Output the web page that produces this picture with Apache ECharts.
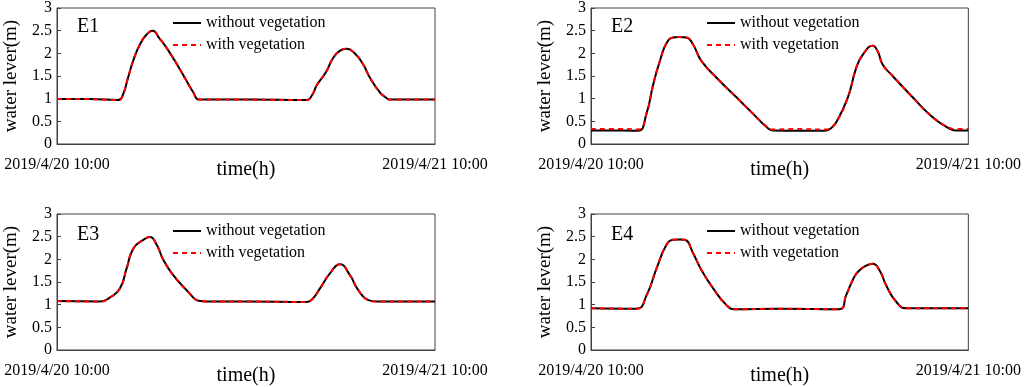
<!DOCTYPE html>
<html>
<head>
<meta charset="utf-8">
<script src="https://cdn.jsdelivr.net/npm/echarts@6/dist/echarts.min.js"></script>
<style>
  html, body { margin: 0; padding: 0; background: #fff; }
  #chart { width: 1024px; height: 387px; }
</style>
</head>
<body>
<div id="chart"></div>
<script>
// time in hours after 2019/4/20 10:00
const panelNames = ["E1", "E2", "E3", "E4"];
const xTickLabels = ["2019/4/20 10:00", "2019/4/21 10:00"];
const seriesNames = ["without vegetation", "with vegetation"];

const e1Time = [0, 2, 3.9, 4.2, 4.5, 4.85, 5.27, 5.7, 6.07, 6.5, 6.96, 7.8, 8.65, 9.0, 9.3, 12, 15.85, 16.2, 16.5, 17.1, 17.5, 17.97, 18.4, 18.9, 19.45, 19.87, 20.5, 20.9, 21.1, 21.5, 24];
const e1Without = [0.99, 0.99, 0.97, 1.1, 1.45, 1.85, 2.2, 2.42, 2.5, 2.33, 2.12, 1.65, 1.14, 0.98, 0.98, 0.98, 0.97, 1.08, 1.3, 1.6, 1.88, 2.06, 2.1, 2.0, 1.75, 1.46, 1.14, 1.02, 0.98, 0.98, 0.98];
const e1With = [0.99, 0.99, 0.97, 1.1, 1.45, 1.85, 2.2, 2.42, 2.5, 2.33, 2.12, 1.65, 1.14, 0.98, 0.98, 0.98, 0.97, 1.08, 1.3, 1.6, 1.88, 2.06, 2.1, 2.0, 1.75, 1.46, 1.14, 1.02, 0.98, 0.98, 0.98];

const e2Time = [0, 2, 3.0, 3.53, 3.96, 4.38, 4.8, 5.22, 5.6, 6.07, 6.5, 7.03, 8.19, 9.25, 10.3, 11.15, 11.57, 13, 14.86, 15.2, 15.6, 16.34, 16.87, 17.29, 17.92, 18.24, 18.56, 19.19, 20.46, 21.73, 22.79, 23.2, 24];
const e2Without = [0.3, 0.3, 0.29, 0.67, 1.32, 1.83, 2.22, 2.35, 2.36, 2.35, 2.19, 1.83, 1.39, 1.03, 0.67, 0.38, 0.3, 0.29, 0.29, 0.33, 0.48, 1.03, 1.68, 1.97, 2.17, 2.04, 1.75, 1.5, 1.03, 0.59, 0.34, 0.3, 0.3];
const e2With = [0.33, 0.33, 0.32, 0.67, 1.32, 1.83, 2.22, 2.35, 2.36, 2.35, 2.19, 1.83, 1.39, 1.03, 0.67, 0.39, 0.32, 0.33, 0.32, 0.35, 0.48, 1.03, 1.68, 1.97, 2.17, 2.04, 1.75, 1.5, 1.03, 0.59, 0.36, 0.33, 0.33];

const e3Time = [0, 2.73, 3.37, 4.0, 4.42, 4.85, 5.48, 5.9, 6.33, 6.75, 7.38, 8.23, 9.08, 9.5, 12, 15.85, 16.2, 16.7, 17.33, 17.97, 18.6, 19.13, 19.77, 20.3, 24];
const e3Without = [1.08, 1.07, 1.16, 1.36, 1.8, 2.24, 2.43, 2.49, 2.32, 1.99, 1.65, 1.32, 1.08, 1.07, 1.07, 1.06, 1.12, 1.36, 1.69, 1.89, 1.65, 1.32, 1.1, 1.07, 1.07];
const e3With = [1.08, 1.07, 1.16, 1.36, 1.8, 2.24, 2.43, 2.49, 2.32, 1.99, 1.65, 1.32, 1.08, 1.07, 1.07, 1.06, 1.12, 1.36, 1.69, 1.89, 1.65, 1.32, 1.1, 1.07, 1.07];

const e4Time = [0, 2.9, 3.54, 4.17, 4.8, 5.22, 5.6, 5.97, 6.5, 7.03, 7.77, 8.62, 9.14, 12, 15.8, 16.23, 16.76, 17.08, 17.5, 17.92, 18.35, 18.77, 19.4, 20.04, 24];
const e4Without = [0.92, 0.91, 1.21, 1.8, 2.32, 2.43, 2.44, 2.43, 2.13, 1.76, 1.36, 0.99, 0.9, 0.91, 0.9, 1.21, 1.62, 1.76, 1.86, 1.9, 1.76, 1.43, 1.07, 0.92, 0.92];
const e4With = [0.92, 0.91, 1.21, 1.8, 2.32, 2.43, 2.44, 2.43, 2.13, 1.76, 1.36, 0.99, 0.9, 0.91, 0.9, 1.21, 1.62, 1.76, 1.86, 1.9, 1.76, 1.43, 1.07, 0.92, 0.92];

const panels = [
  { time: e1Time, without: e1Without, withVeg: e1With },
  { time: e2Time, without: e2Without, withVeg: e2With },
  { time: e3Time, without: e3Without, withVeg: e3With },
  { time: e4Time, without: e4Without, withVeg: e4With },
];

const FONT = "'Liberation Serif', 'Times New Roman', serif";
const AXIS_COLOR = "#404040";

// grid boxes in px
const boxes = [
  { left: 57, top: 6, height: 138 },
  { left: 591, top: 6, height: 138 },
  { left: 57, top: 214, height: 136 },
  { left: 591, top: 214, height: 136 },
];
const plotWidth = 378;

const zip = (xs, ys) => xs.map((x, i) => [x, ys[i]]);

const grid = [], xAxis = [], yAxis = [], series = [], legend = [], title = [];
boxes.forEach((b, i) => {
  grid.push({
    left: b.left, top: b.top, width: plotWidth, height: b.height,
    show: true, borderColor: AXIS_COLOR, borderWidth: 1,
  });
  xAxis.push({
    gridIndex: i,
    type: "value",
    min: 0, max: 24, interval: 24,
    name: "time(h)",
    nameLocation: "middle",
    nameGap: 16,
    nameMoveOverlap: false,
    nameTextStyle: { fontFamily: FONT, fontSize: 20, color: "#000" },
    axisLine: { lineStyle: { color: AXIS_COLOR } },
    axisTick: { show: false },
    splitLine: { show: false },
    axisLabel: {
      fontFamily: FONT, fontSize: 16, color: "#000", margin: 13,
      formatter: (v) => (v === 0 ? xTickLabels[0] : xTickLabels[1]),
    },
  });
  yAxis.push({
    gridIndex: i,
    type: "value",
    min: 0, max: 3, interval: 0.5,
    name: "water lever(m)",
    nameLocation: "middle",
    nameGap: 36,
    nameMoveOverlap: false,
    nameTextStyle: { fontFamily: FONT, fontSize: 19, color: "#000" },
    axisLine: { show: true, lineStyle: { color: AXIS_COLOR } },
    axisTick: { show: true, inside: true, length: 4, lineStyle: { color: AXIS_COLOR } },
    splitLine: { show: false },
    axisLabel: { fontFamily: FONT, fontSize: 16, color: "#000", margin: 5 },
  });
  const p = panels[i];
  series.push({
    name: seriesNames[0], type: "line", xAxisIndex: i, yAxisIndex: i,
    data: zip(p.time, p.without), smooth: 0.5, symbol: "none",
    lineStyle: { color: "#000", width: 2 }, itemStyle: { color: "#000" },
  });
  series.push({
    name: seriesNames[1], type: "line", xAxisIndex: i, yAxisIndex: i,
    data: zip(p.time, p.withVeg), smooth: 0.5, symbol: "none",
    lineStyle: { color: "#ff0000", width: 2, type: [5, 4] }, itemStyle: { color: "#ff0000" },
  });
  legend.push({
    data: seriesNames,
    orient: "vertical",
    left: b.left + 115,
    top: b.top + 9,
    padding: 0,
    itemWidth: 28,
    itemHeight: 14,
    itemGap: 6,
    selectedMode: false,
    itemStyle: { opacity: 0 },
    textStyle: { fontFamily: FONT, fontSize: 16, color: "#000" },
  });
  title.push({
    text: panelNames[i],
    left: b.left + 20,
    top: b.top + 11,
    padding: 0,
    textStyle: { fontFamily: FONT, fontSize: 20, fontWeight: "normal", color: "#000" },
  });
});

const chart = echarts.init(document.getElementById("chart"), null, { renderer: "canvas" });
chart.setOption({
  animation: false,
  backgroundColor: "#fff",
  title, grid, xAxis, yAxis, legend, series,
});
</script>
</body>
</html>
